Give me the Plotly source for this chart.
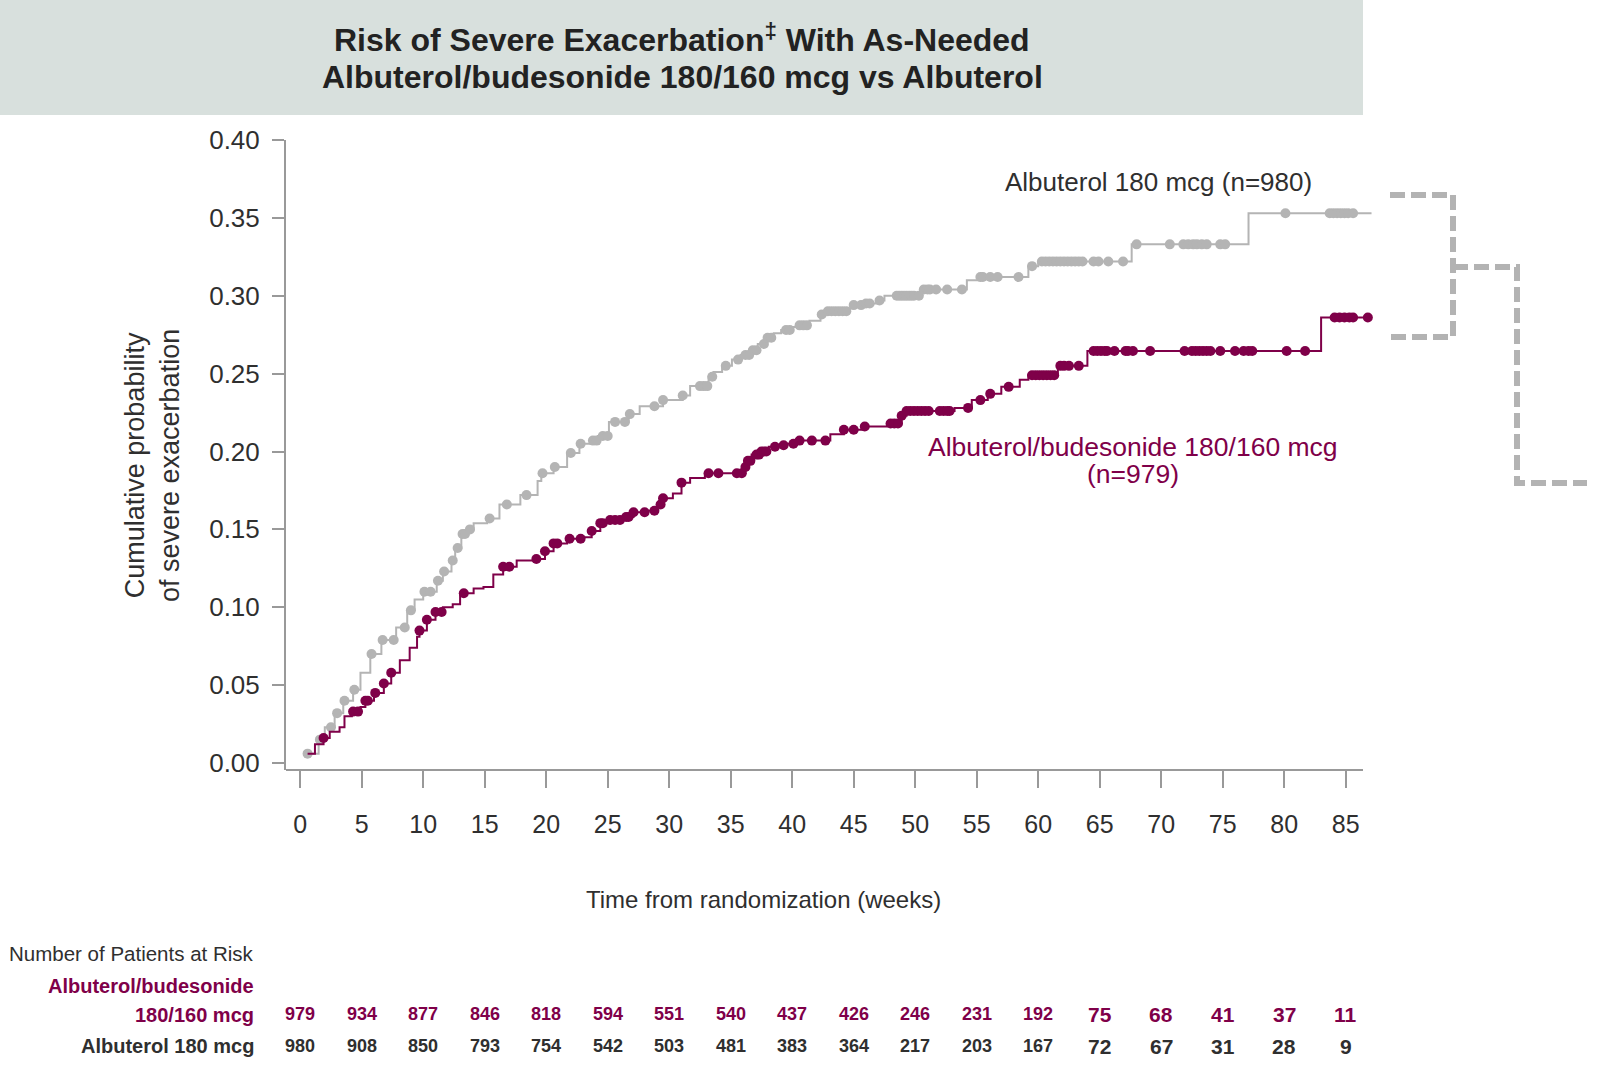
import numpy as np
import plotly.graph_objects as go

# ---------------- data ----------------
alb_step_t = [0.6, 1.5, 2.0, 2.8, 3.5, 4.3, 4.9, 5.7, 6.6, 7.8, 8.7, 9.3, 10.0, 11.1, 11.6, 12.3, 12.6,
              13.1, 13.5, 14.1, 15.2, 16.2, 17.9, 19.3, 19.6, 20.6, 21.7, 22.7, 23.6, 24.2, 25.1, 26.7,
              27.6, 29.5, 31.1, 31.7, 33.2, 33.6, 34.3, 35.1, 35.8, 36.6, 37.2, 37.9, 38.5, 39.1, 40.0,
              40.6, 41.4, 42.3, 42.9, 44.6, 45.0, 45.8, 47.0, 47.5, 50.4, 54.2, 55.2, 59.2, 60.0, 67.6,
              77.1, 87.1]
alb_step_p = [0.006, 0.015, 0.023, 0.032, 0.040, 0.047, 0.058, 0.070, 0.079, 0.087, 0.098, 0.105, 0.110,
              0.117, 0.123, 0.130, 0.138, 0.147, 0.150, 0.154, 0.157, 0.166, 0.172, 0.181, 0.186, 0.190,
              0.199, 0.205, 0.207, 0.210, 0.219, 0.224, 0.229, 0.233, 0.236, 0.242, 0.248, 0.251, 0.255,
              0.259, 0.262, 0.265, 0.269, 0.273, 0.276, 0.278, 0.280, 0.281, 0.284, 0.288, 0.290, 0.292,
              0.294, 0.295, 0.297, 0.300, 0.304, 0.310, 0.312, 0.319, 0.322, 0.333, 0.353, 0.353]

bud_step_t = [0.6, 1.2, 1.9, 2.4, 3.2, 3.6, 4.2, 4.9, 5.3, 6.0, 6.8, 7.4, 8.1, 8.9, 9.5, 9.7, 10.3, 11.0,
              11.6, 12.4, 13.0, 14.1, 14.9, 15.7, 16.5, 17.6, 19.2, 19.9, 20.6, 21.7, 22.9, 23.7, 24.4,
              25.2, 26.3, 27.1, 28.2, 29.0, 29.4, 30.3, 31.0, 31.7, 32.9, 36.2, 36.4, 36.7, 37.4, 38.1,
              38.7, 39.6, 40.6, 43.1, 44.2, 45.8, 47.7, 48.9, 49.3, 53.2, 54.6, 55.9, 57.0, 58.5, 59.2,
              61.6, 64.0, 83.0, 86.9]
bud_step_p = [0.006, 0.012, 0.016, 0.020, 0.023, 0.030, 0.033, 0.036, 0.040, 0.045, 0.051, 0.058, 0.066,
              0.074, 0.081, 0.085, 0.092, 0.097, 0.100, 0.102, 0.109, 0.112, 0.113, 0.121, 0.126, 0.130,
              0.131, 0.136, 0.141, 0.144, 0.145, 0.149, 0.154, 0.156, 0.158, 0.161, 0.162, 0.166, 0.170,
              0.173, 0.180, 0.183, 0.186, 0.190, 0.194, 0.198, 0.200, 0.203, 0.204, 0.205, 0.207, 0.211,
              0.214, 0.216, 0.218, 0.223, 0.226, 0.228, 0.233, 0.237, 0.2415, 0.246, 0.249, 0.255, 0.2645,
              0.286, 0.286]

alb_censor_t = [0.6, 1.6, 2.5, 3.0, 3.6, 4.4, 5.8, 6.7, 7.6, 8.5, 9.0, 10.1, 10.6, 11.2, 11.7, 12.4, 12.8,
                13.2, 13.4, 13.8, 15.4, 16.8, 18.4, 19.7, 20.7, 22.0, 22.8, 23.8, 24.1, 24.6, 25.0, 25.6,
                26.4, 26.8, 28.8, 29.5, 31.1, 32.5, 32.8, 33.1, 33.5, 34.6, 35.6, 36.2, 36.5, 36.8, 37.1,
                37.7, 38.0, 38.3, 39.5, 39.8, 40.6, 40.9, 41.2, 42.4, 42.9, 43.2, 43.5, 43.8, 44.1, 44.4,
                45.0, 45.6, 46.0, 46.3, 47.1, 48.5, 48.7, 48.9, 49.1, 49.3, 49.5, 49.7, 49.9, 50.3, 50.7,
                51.0, 51.2, 51.7, 52.6, 53.8, 55.3, 55.5, 56.1, 56.7, 58.4, 59.5, 60.3, 60.6, 60.9, 61.2,
                61.5, 61.8, 62.1, 62.4, 62.7, 63.0, 63.3, 63.6, 64.5, 64.9, 65.7, 66.9, 68.0, 70.7, 71.8,
                72.2, 72.6, 72.9, 73.3, 73.7, 74.8, 75.2, 80.1, 83.7, 84.0, 84.3, 84.6, 84.9, 85.2, 85.6]

bud_censor_t = [1.9, 4.3, 4.7, 5.3, 5.5, 6.1, 6.8, 7.4, 9.7, 10.3, 11.0, 11.5, 13.3, 16.5, 17.0, 19.2,
                19.9, 20.6, 20.9, 21.9, 22.8, 23.7, 24.4, 24.6, 25.2, 25.6, 26.0, 26.5, 26.7, 27.1, 28.0,
                28.8, 29.3, 29.5, 31.0, 33.2, 34.0, 35.5, 35.9, 36.2, 36.4, 36.6, 37.1, 37.3, 37.5, 37.7,
                37.9, 38.6, 39.3, 40.1, 40.6, 41.6, 42.7, 44.2, 45.0, 45.9, 48.0, 48.3, 48.6, 48.9, 49.3,
                49.6, 49.9, 50.2, 50.5, 50.8, 51.1, 52.0, 52.3, 52.6, 52.8, 54.3, 55.3, 56.1, 57.6, 59.5,
                59.8, 60.1, 60.4, 60.7, 61.0, 61.3, 61.8, 62.1, 62.5, 63.3, 64.5, 64.8, 65.1, 65.4, 65.6,
                66.2, 67.1, 67.3, 67.7, 69.1, 71.9, 72.5, 72.8, 73.1, 73.4, 73.7, 74.0, 74.8, 76.0, 76.7,
                77.1, 77.4, 80.2, 81.7, 84.1, 84.5, 84.9, 85.3, 85.6, 86.8]

risk_weeks = [0, 5, 10, 15, 20, 25, 30, 35, 40, 45, 50, 55, 60, 65, 70, 75, 80, 85]
risk_bud = [979, 934, 877, 846, 818, 594, 551, 540, 437, 426, 246, 231, 192, 75, 68, 41, 37, 11]
risk_alb = [980, 908, 850, 793, 754, 542, 503, 481, 383, 364, 217, 203, 167, 72, 67, 31, 28, 9]

x_ticks = list(range(0, 90, 5))
y_ticks = [0.0, 0.05, 0.10, 0.15, 0.20, 0.25, 0.30, 0.35, 0.40]

# ---------------- styling ----------------
GRAY = "#b4b4b4"
MAROON = "#7f0049"
DARK = "#2f2f2f"
AXIS = "#999999"
FONT = "Liberation Sans"

W, H = 1607, 1080
L, R, T, B = 286, 1374, 140, 770


def px(x):
    return (x - L) / (R - L)


def py(y):
    return (B - y) / (B - T)


def step_value(ts, ps, t):
    i = np.searchsorted(np.array(ts), np.array(t), side="right") - 1
    i = np.clip(i, 0, len(ps) - 1)
    return np.array(ps)[i]


fig = go.Figure()

for ts, ps, cens, col in [(alb_step_t, alb_step_p, alb_censor_t, GRAY),
                          (bud_step_t, bud_step_p, bud_censor_t, MAROON)]:
    fig.add_trace(go.Scatter(x=ts, y=ps, mode="lines", line=dict(color=col, width=2, shape="hv"),
                             hoverinfo="skip", showlegend=False))
    fig.add_trace(go.Scatter(x=cens, y=step_value(ts, ps, cens), mode="markers",
                             marker=dict(color=col, size=10, line=dict(width=0)),
                             hoverinfo="skip", showlegend=False, cliponaxis=False))


def label(text, x, y, size, color, xanchor="center", xref="paper", angle=0):
    return dict(text=text, x=x, y=y, xref=xref, yref="paper", showarrow=False, xanchor=xanchor,
                yanchor="middle", textangle=angle, font=dict(family=FONT, size=size, color=color))


ann = [
    label("<b>Risk of Severe Exacerbation<sup>‡</sup> With As-Needed</b>", px(682), py(38), 32, "#222222"),
    label("<b>Albuterol/budesonide 180/160 mcg vs Albuterol</b>", px(682), py(77), 32, "#222222"),
    label("Cumulative probability<br>of severe exacerbation", px(153), py(466), 27, DARK, angle=-90),
    label("Time from randomization (weeks)", px(763), py(899), 24, DARK),
    label("Albuterol 180 mcg (n=980)", px(1158), py(182), 26, DARK),
    label("Albuterol/budesonide 180/160 mcg", px(1133), py(447), 26.5, MAROON),
    label("(n=979)", px(1133), py(474), 26.5, MAROON),
    label("Number of Patients at Risk", px(256), py(953), 20.5, DARK, xanchor="right"),
    label("<b>Albuterol/budesonide</b>", px(256), py(986), 20, MAROON, xanchor="right"),
    label("<b>180/160 mcg</b>", px(256), py(1015), 20, MAROON, xanchor="right"),
    label("<b>Albuterol 180 mcg</b>", px(256), py(1046), 20, DARK, xanchor="right"),
]
for wk, nb, na in zip(risk_weeks, risk_bud, risk_alb):
    fs = 21 if wk >= 65 else 18
    ann.append(label(f"<b>{nb}</b>", wk, py(1014), fs, MAROON, xref="x"))
    ann.append(label(f"<b>{na}</b>", wk, py(1046), fs, DARK, xref="x"))

shapes = [
    # title band
    dict(type="rect", xref="paper", yref="paper", x0=px(0), x1=px(1363), y0=py(115), y1=py(-5),
         fillcolor="#d8e0dd", line=dict(width=0), layer="below"),
    # x axis line
    dict(type="line", xref="paper", yref="paper", x0=px(286), x1=px(1363), y0=0, y1=0,
         line=dict(color=AXIS, width=2)),
    # dashed brackets
    dict(type="path", xref="paper", yref="paper",
         path=f"M {px(1390)},{py(195)} L {px(1453)},{py(195)} L {px(1453)},{py(337)} L {px(1390)},{py(337)}",
         line=dict(color="#b3b3b3", width=6, dash="15px,6px")),
    dict(type="path", xref="paper", yref="paper",
         path=f"M {px(1453)},{py(267)} L {px(1517)},{py(267)} L {px(1517)},{py(483)} L {px(1587)},{py(483)}",
         line=dict(color="#b3b3b3", width=6, dash="15px,6px")),
]

x_per_wk = 12.30
x0_px = 300.2
fig.update_layout(
    width=W, height=H, autosize=False,
    margin=dict(l=L, r=W - R, t=T, b=H - B, pad=0),
    paper_bgcolor="white", plot_bgcolor="white",
    showlegend=False,
    annotations=ann, shapes=shapes,
    font=dict(family=FONT, color=DARK),
    xaxis=dict(range=[(L - x0_px) / x_per_wk, (R - x0_px) / x_per_wk], tickvals=x_ticks,
               ticks="outside", ticklen=17, tickwidth=2, tickcolor=AXIS, showline=False,
               showgrid=False, zeroline=False, tickfont=dict(family=FONT, size=25, color=DARK),
               ticklabelstandoff=15),
    yaxis=dict(range=[-(770 - 763) / 1557.5, 0.4], tickvals=y_ticks, tickformat=".2f",
               ticks="outside", ticklen=12, tickwidth=2, tickcolor=AXIS, showline=True, linecolor=AXIS,
               linewidth=2, showgrid=False, zeroline=False,
               tickfont=dict(family=FONT, size=26, color=DARK), ticklabelstandoff=7),
)

fig.write_html("out.html", config={"displayModeBar": False},
               post_script="document.body.style.margin='0px';")
